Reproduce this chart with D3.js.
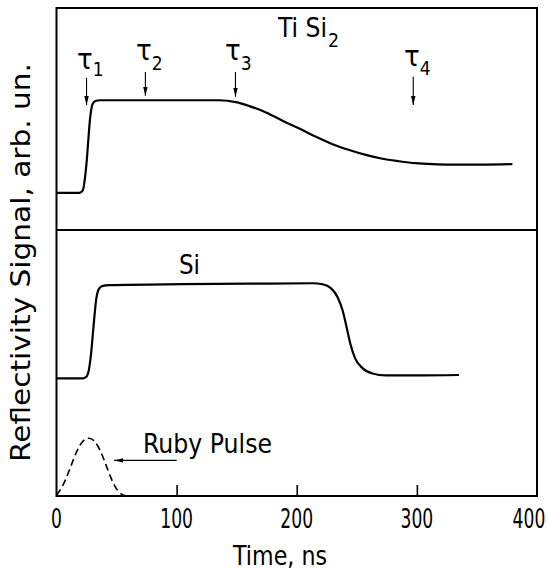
<!DOCTYPE html>
<html><head><meta charset="utf-8">
<script src="https://cdn.jsdelivr.net/npm/d3@7"></script>
<style>body{margin:0;background:#fff}svg{display:block}text{font-family:"DejaVu Sans",sans-serif;fill:#000}</style>
</head><body>
<svg id="c" width="548" height="570"></svg>
<script>
// ---- data (time in ns, signal in arbitrary units) ----
const tisi2T = [0,18,20,22,23.5,25,26.5,28,29.5,31,33,36,60,100,135.5,149.4,160.5,174.4,188.2,202.1,216,229.8,243.7,257.5,271.4,285.2,299.1,313,326.8,354.5,379.5];
const tisi2V = [62.1,62.1,62.2,62.7,64.8,68.2,73.0,77.5,79.9,80.7,81.0,81.1,81.1,81.1,81.1,80.7,79.9,78.6,76.9,75.3,73.6,72.1,70.9,69.9,69.1,68.6,68.2,68.0,67.9,67.9,68.0];
const siT = [0,21.9,24.7,26.9,28.8,30.8,33,35.2,38,44.1,105,160.5,213.2,221.5,228.4,233.9,238.1,241.4,244.5,248.6,254.7,263,274.2,299.1,335.1];
const siV = [24.1,24.1,24.4,25.8,29.2,34.7,40.2,42.4,43.0,43.2,43.4,43.5,43.6,43.4,42.6,40.8,38.1,34.7,31.3,28.2,26.2,25.1,24.7,24.7,24.8];
const rubyT = [0,5.3,10.8,16.4,21.9,26.9,31.6,37.2,42.7,48.2,53.8,59];
const rubyV = [0.2,1.9,5.3,9.1,11.5,12.0,11.5,9.1,5.3,1.9,0.2,0];
const xTicks = [0,100,200,300,400];
const tauNames = ["1","2","3","4"];
const tauTimes = [25,74,149,297];
const panelSplit = 54.5;

const svg = d3.select("#c");
const x = d3.scaleLinear().domain([0,400]).range([56.5,537]);
const y = d3.scaleLinear().domain([0,100]).range([496,8]);

// frame
svg.append("rect").attr("x",x(0)).attr("y",y(100)).attr("width",x(400)-x(0)).attr("height",y(0)-y(100))
  .attr("fill","none").attr("stroke","#000").attr("stroke-width",2);
svg.append("line").attr("x1",x(0)).attr("x2",x(400)).attr("y1",y(panelSplit)).attr("y2",y(panelSplit))
  .attr("stroke","#000").attr("stroke-width",2);

// bottom axis ticks (inward)
const xAxis = d3.axisBottom(x).tickValues(xTicks.slice(1,-1)).tickSize(-11).tickFormat("");
const ax = svg.append("g").attr("transform",`translate(0,${y(0)})`).call(xAxis);
ax.select(".domain").remove();
ax.selectAll(".tick line").attr("stroke","#000").attr("stroke-width",1.6);

// tick labels
svg.selectAll("text.xl").data(xTicks).enter().append("text").attr("class","xl")
  .attr("x",d=> d===400 ? x(d)-8 : x(d)).attr("y",528).attr("text-anchor","middle")
  .attr("font-size",26)
  .attr("transform",d=>{const cx = d===400 ? x(d)-8 : x(d); return `translate(${cx},0) scale(0.66,1) translate(${-cx},0)`;})
  .text(d=>d);

// axis titles
svg.append("text").attr("x",233).attr("y",565).attr("font-size",27)
  .attr("textLength",94).attr("lengthAdjust","spacingAndGlyphs").text("Time, ns");
svg.append("text").attr("transform","translate(30,262.5) rotate(-90)").attr("text-anchor","middle")
  .attr("font-size",26).attr("textLength",399).attr("lengthAdjust","spacingAndGlyphs")
  .text("Reflectivity Signal, arb. un.");

// curves
const line = d3.line().x(d=>x(d[0])).y(d=>y(d[1])).curve(d3.curveMonotoneX);
svg.append("path").datum(d3.zip(tisi2T,tisi2V)).attr("d",line)
  .attr("fill","none").attr("stroke","#000").attr("stroke-width",2.2);
svg.append("path").datum(d3.zip(siT,siV)).attr("d",line)
  .attr("fill","none").attr("stroke","#000").attr("stroke-width",2.2);
svg.append("path").datum(d3.zip(rubyT,rubyV)).attr("d",d3.line().x(d=>x(d[0])).y(d=>y(d[1])).curve(d3.curveBasis))
  .attr("fill","none").attr("stroke","#000").attr("stroke-width",1.6).attr("stroke-dasharray","7,4");

// arrow marker
svg.append("defs").append("marker").attr("id","ah").attr("viewBox","0 0 10 10")
  .attr("refX",10).attr("refY",5).attr("markerWidth",9).attr("markerHeight",9)
  .attr("markerUnits","userSpaceOnUse").attr("orient","auto")
  .append("path").attr("d","M0,2.5L10,5L0,7.5Z").attr("fill","#000");

// tau annotations (label: tau x, tau baseline, subscript drop)
const tauTop = [85.7,86.9,86.9,85.9];
const tauTip = [80.1,82.0,81.8,80.1];
const tauLabel = [[77,69,7],[136,60,10],[225,60,10],[404,66,9]];
tauTimes.forEach((t,i)=>{
  svg.append("line").attr("x1",x(t)).attr("x2",x(t)).attr("y1",y(tauTop[i])).attr("y2",y(tauTip[i]))
    .attr("stroke","#000").attr("stroke-width",1.1).attr("marker-end","url(#ah)");
  const L = tauLabel[i];
  const tx = svg.append("text")
    .attr("transform",`translate(${L[0]},${L[1]}) scale(0.9,1)`);
  tx.append("tspan").attr("font-size",29).text("τ");
  tx.append("tspan").attr("font-size",19).attr("dx",0).attr("dy",L[2]).text(tauNames[i]);
});

// panel labels
const ts = svg.append("text").attr("transform","translate(278,37) scale(0.87,1)");
ts.append("tspan").attr("font-size",27).text("Ti Si");
ts.append("tspan").attr("font-size",20).attr("dx",1).attr("dy",10).text("2");
svg.append("text").attr("x",179).attr("y",274).attr("font-size",26)
  .attr("textLength",21).attr("lengthAdjust","spacingAndGlyphs").text("Si");
svg.append("text").attr("x",143).attr("y",453).attr("font-size",27)
  .attr("textLength",129).attr("lengthAdjust","spacingAndGlyphs").text("Ruby Pulse");
svg.append("line").attr("x1",x(100)).attr("x2",x(48)).attr("y1",y(7.3)).attr("y2",y(7.3))
  .attr("stroke","#000").attr("stroke-width",1.1).attr("marker-end","url(#ah)");
</script>
</body></html>
